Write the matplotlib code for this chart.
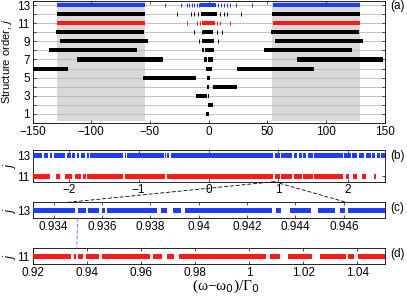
import matplotlib
matplotlib.use('Agg')
import matplotlib.pyplot as plt
from matplotlib.patches import ConnectionPatch

plt.rcParams['font.family'] = ['Liberation Sans', 'DejaVu Sans']
plt.rcParams['font.size'] = 8.5
plt.rcParams['axes.linewidth'] = 0.6

BLUE = '#1f3dff'
RED = '#ff1a1a'
row_colors = {13: BLUE, 11: RED}

# ---- panel (a): spectrum of each structure order j ----
orders = list(range(1, 14))
bands = {
    13: [(-129.2, -53.7), (54.9, 129.5)],
    12: [(-129.2, -53.7), (54.0, 129.0)],
    11: [(-129.2, -53.7), (54.9, 129.5)],
    10: [(-130.3, -55.1), (53.2, 128.4)],
    9: [(-126.7, -51.2), (56.8, 132.0)],
    8: [(-136.3, -61.1), (47.4, 122.4)],
    7: [(-112.0, -38.6), (75.4, 148.9)],
    6: [(-155.0, -119.5), (24.0, 90.0)],
    5: [(-55.4, -10.9)],
    4: [(4.0, 24.6)],
    3: [(-10.7, -1.3)],
    2: [],
    1: [],
}
cores = {
    13: [(-7.5, 6.8)],
    12: [(-6.7, 7.0)],
    11: [(-5.8, 5.6)],
    10: [(-4.4, 4.1)],
    9: [(-5.5, 4.5)],
    8: [(-5.3, -3.6), (-2.9, 2.6), (3.3, 5.0)],
    7: [(-3.8, -1.0), (-0.5, 3.6)],
    6: [(-2.5, 2.6)],
    5: [(-1.5, 1.5)],
    4: [(-1.0, 0.8)],
    3: [(-0.3, 0.6)],
    2: [(-0.2, 3.6)],
    1: [(-2.1, 0.5)],
}
levels = {
    13: [-36.7, -23.5, -18.6, -16.3, -14.3, -12.1, -10.1, -8.1,
         8.4, 10.7, 13.2, 16.1, 18.4, 23.5, 36.9],
    12: [-27.2, -15.2, -12.1, -8.7, 9.8, 13.2, 16.1, 27.5],
    11: [-18.7, -10.1, -7.3, 7.0, 9.8, 18.4],
    10: [-12.4, -5.8, 7.0, 11.9],
    9: [-8.1, 8.0],
}
shade = [(-129.3, -54.3), (54.3, 129.3)]

# ---- panel (b): j = 13 and j = 11 near the centre ----
b_xlim = (-2.52, 2.52)
b13_gaps = [(-2.385, -2.36), (-2.295, -2.27), (-2.235, -2.21), (-2.055, -2.03),
            (-1.975, -1.95), (-1.905, -1.88), (-1.855, -1.83), (-1.765, -1.74),
            (-1.715, -1.69), (-1.22, -1.20), (-1.18, -1.16), (-0.64, -0.62),
            (-0.61, -0.59), (-0.56, -0.54), (0.93, 0.95), (1.02, 1.04),
            (1.20, 1.22), (1.27, 1.29), (1.34, 1.36), (1.40, 1.42), (1.49, 1.51),
            (1.92, 1.94), (2.04, 2.06), (2.13, 2.15), (2.23, 2.25), (2.32, 2.34),
            (2.39, 2.41), (2.45, 2.47)]
b11_bands = [(-2.52, -2.27), (-2.19, -2.13), (-2.05, -1.96), (-1.91, -1.83),
             (-1.80, -1.76), (-1.74, -1.22), (-1.20, -0.63), (-0.60, 0.93),
             (0.95, 1.02), (1.04, 1.20), (1.22, 1.34), (1.36, 1.49), (1.51, 1.92),
             (1.97, 2.01), (2.07, 2.13), (2.20, 2.25), (2.37, 2.40)]

# ---- panel (c): j = 13 zoom ----
c_xlim = (0.93313, 0.94768)
c13_bands = [(0.93313, 0.93490), (0.93503, 0.93535), (0.93544, 0.93588),
             (0.93602, 0.93613), (0.93623, 0.93826), (0.93843, 0.93868),
             (0.93895, 0.93925), (0.93943, 0.94301), (0.94318, 0.94342),
             (0.94376, 0.94466), (0.94493, 0.94562), (0.94582, 0.94606),
             (0.94619, 0.94768)]

# ---- panel (d): j = 11 zoom ----
d_xlim = (0.92, 1.05)
d11_bands = [(0.92, 0.9343), (0.93551, 0.93611), (0.93671, 0.93878),
             (0.93975, 0.94459), (0.94579, 0.96337), (0.96457, 0.96783),
             (0.96965, 0.97244), (0.97401, 1.00608), (1.00779, 1.01142),
             (1.01421, 1.0233), (1.02631, 1.03565), (1.03659, 1.03877),
             (1.04022, 1.05)]


def complement(gaps, lo, hi):
    out, start = [], lo
    for g0, g1 in gaps:
        out.append((start, g0))
        start = g1
    out.append((start, hi))
    return out


def draw_bands(ax, intervals, y, h, color):
    ax.broken_barh([(a, b - a) for a, b in intervals], (y - h / 2, h),
                   facecolor=color, edgecolor='none', zorder=3)


def style(ax):
    ax.tick_params(direction='in', top=True, right=True, length=2.5,
                   width=0.5, pad=2)


W, H = 407, 302
fig = plt.figure(figsize=(W / 100, H / 100), dpi=100)
left, width = 32.5 / W, 352 / W
ax_a = fig.add_axes([left, 1 - 123 / H, width, 122.5 / H])
ax_b = fig.add_axes([left, 1 - 181.7 / H, width, 31.7 / H])
ax_c = fig.add_axes([left, 1 - 218.3 / H, width, 16 / H])
ax_d = fig.add_axes([left, 1 - 264.3 / H, width, 16 / H])

# panel (a)
for s0, s1 in shade:
    ax_a.fill_between([s0, s1], 0.25, 13.5, color='#d9d9d9', lw=0, zorder=0)
for j in orders:
    ax_a.axhline(j, color='#b8b8b8', lw=0.6, zorder=1)
for j in orders:
    col = row_colors.get(j, 'black')
    draw_bands(ax_a, bands[j] + cores[j], j, 0.45, col)
    if j in levels:
        ax_a.vlines(levels[j], j - 0.22, j + 0.22, color=col, lw=0.7, zorder=3)
ax_a.set_xlim(-150, 150)
ax_a.set_ylim(0, 13.5)
ax_a.set_xticks([-150, -100, -50, 0, 50, 100, 150])
ax_a.set_xticklabels(['\u2212150', '\u2212100', '\u221250', '0', '50', '100', '150'])
ax_a.set_yticks(orders)
ax_a.set_yticklabels([str(j) if j % 2 else '' for j in orders])
ax_a.set_ylabel('Structure order, $\\it{j}$', fontsize=8, va='center')
ax_a.yaxis.set_label_coords(-0.072, 0.5)
style(ax_a)

# panel (b)
draw_bands(ax_b, complement(b13_gaps, *b_xlim), 13, 0.5, BLUE)
draw_bands(ax_b, b11_bands, 11, 0.5, RED)
ax_b.set_xlim(*b_xlim)
ax_b.set_ylim(10.45, 13.55)
ax_b.set_xticks([-2, -1, 0, 1, 2])
ax_b.set_xticklabels(['\u22122', '\u22121', '0', '1', '2'])
ax_b.set_yticks([11, 13])
style(ax_b)

# panel (c)
draw_bands(ax_c, c13_bands, 13, 0.32, BLUE)
ax_c.set_xlim(*c_xlim)
ax_c.set_ylim(12.5, 13.5)
ax_c.set_xticks([0.934, 0.936, 0.938, 0.94, 0.942, 0.944, 0.946])
ax_c.set_xticklabels(['0.934', '0.936', '0.938', '0.94', '0.942', '0.944', '0.946'])
ax_c.set_yticks([13])
style(ax_c)

# panel (d)
draw_bands(ax_d, d11_bands, 11, 0.32, RED)
ax_d.set_xlim(*d_xlim)
ax_d.set_ylim(10.5, 11.5)
ax_d.set_xticks([0.92, 0.94, 0.96, 0.98, 1.0, 1.02, 1.04])
ax_d.set_xticklabels(['0.92', '0.94', '0.96', '0.98', '1', '1.02', '1.04'])
ax_d.set_yticks([11])
ax_d.set_xlabel('(\u03c9\u2212\u03c9$_0$)/\u0393$_0$', family=['Liberation Serif', 'DejaVu Serif'],
                fontsize=11, labelpad=0)
ax_d.xaxis.set_label_coords(0.55, -0.85)
style(ax_d)

for ax in (ax_b, ax_c, ax_d):
    ax.set_ylabel('$\\it{j}$', va='center')
    ax.yaxis.set_label_coords(-0.066, 0.5)

for ax, lab in zip([ax_a, ax_b, ax_c, ax_d], ['(a)', '(b)', '(c)', '(d)']):
    ax.text(1.015, 1.0, lab, transform=ax.transAxes, ha='left', va='top')

# zoom connectors
links = [
    (ax_a, (-2.5, -0.55), ax_b, (-2, 13.55), 'black'),
    (ax_a, (2.5, -0.55), ax_b, (2, 13.55), 'black'),
    (ax_b, (0.94, 10.45), ax_c, (0.9346, 13.5), 'black'),
    (ax_b, (0.94, 10.45), ax_c, (0.9461, 13.5), 'black'),
    (ax_c, (0.935, 12.5), ax_d, (0.93634, 11.5), '#a64dff'),
]
for axA, pA, axB, pB, col in links:
    con = ConnectionPatch(xyA=pA, coordsA='data', axesA=axA,
                          xyB=pB, coordsB='data', axesB=axB,
                          color=col, lw=0.6, linestyle=(0, (4, 3)))
    con.set_clip_on(False)
    fig.add_artist(con)

fig.savefig('out.png', dpi=100)
